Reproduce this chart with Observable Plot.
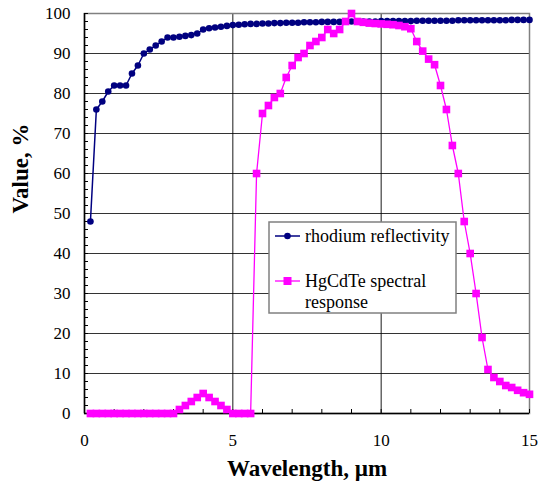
<!DOCTYPE html>
<html>
<head>
<meta charset="utf-8">
<script src="https://cdn.jsdelivr.net/npm/d3@7"></script>
<script src="https://cdn.jsdelivr.net/npm/@observablehq/plot@0.6"></script>
<style>
  html, body { margin: 0; padding: 0; background: #fff; }
</style>
</head>
<body>
<div id="chart"></div>
<script>
const wavelength = [0.2,0.4,0.6,0.8,1.0,1.2,1.4,1.6,1.8,2.0,2.2,2.4,2.6,2.8,3.0,3.2,3.4,3.6,3.8,4.0,
  4.2,4.4,4.6,4.8,5.0,5.2,5.4,5.6,5.8,6.0,6.2,6.4,6.6,6.8,7.0,7.2,7.4,7.6,7.8,8.0,
  8.2,8.4,8.6,8.8,9.0,9.2,9.4,9.6,9.8,10.0,10.2,10.4,10.6,10.8,11.0,11.2,11.4,11.6,11.8,12.0,
  12.2,12.4,12.6,12.8,13.0,13.2,13.4,13.6,13.8,14.0,14.2,14.4,14.6,14.8,15.0];
const rhodium = [48,76,78,80.5,82,82,82,85,87,90,91,92,93,94,94,94.2,94.4,94.6,95,96,
  96.3,96.5,96.7,96.9,97.1,97.2,97.3,97.4,97.4,97.5,97.5,97.6,97.6,97.7,97.7,97.7,97.8,97.8,97.8,97.9,
  97.9,97.9,97.9,98.0,98.0,98.0,98.0,98.0,98.0,98.1,98.1,98.1,98.1,98.1,98.1,98.2,98.2,98.2,98.2,98.2,
  98.2,98.2,98.3,98.3,98.3,98.3,98.3,98.3,98.3,98.3,98.3,98.4,98.4,98.4,98.4];
const hgcdte = [0,0,0,0,0,0,0,0,0,0,0,0,0,0,0,1,2,3,4,5,
  4,3,2,1,0,0,0,0,60,75,77,79,80,84,87,89,90,92,93,94,
  96,95,96,98,100,98,97.8,97.6,97.5,97.4,97.3,97.2,97.0,96.7,96.2,93,90.6,88.6,87.2,82,
  76,67,60,48,40,30,19,11,9,8,7,6.5,5.8,5.2,4.8];
const seriesNames = ["rhodium reflectivity", ["HgCdTe spectral", "response"]];
const xMajorTicks = [0,5,10,15];
const xMinorTicks = [0,1,2,3,4,5,6,7,8,9,10,11,12,13,14,15];
const yMajorTicks = [0,10,20,30,40,50,60,70,80,90,100];
const yMinorTicks = d3.range(0, 101, 2);
const xGrid = [5,10];
const yGrid = [10,20,30,40,50,60,70,80,90,100];

const rhData = wavelength.map((w, i) => ({w, v: rhodium[i]}));
const hgData = wavelength.map((w, i) => ({w, v: hgcdte[i]}));

const navy = "#000080", magenta = "#ff00ff";
const font = '"Liberation Serif", "Times New Roman", serif';

const plot = Plot.plot({
  width: 538, height: 490,
  marginLeft: 84, marginRight: 9, marginTop: 13, marginBottom: 77,
  x: {domain: [0, 15]},
  y: {domain: [0, 100]},
  style: {fontFamily: font, fontSize: "17px", background: "#fff", color: "#000"},
  marks: [
    Plot.gridY(yGrid, {stroke: "#000", strokeOpacity: 0.8, strokeWidth: 1}),
    Plot.gridX(xGrid, {stroke: "#000", strokeOpacity: 0.9, strokeWidth: 1}),
    Plot.frame({stroke: "#808080", strokeWidth: 1.5}),
    Plot.ruleX([0], {stroke: "#000", strokeWidth: 1.5}),
    Plot.ruleY([0], {stroke: "#000", strokeWidth: 1.5}),
    Plot.axisY(yMinorTicks, {tickSize: 4, dx: 4, tickFormat: () => "", label: null, strokeWidth: 1}),
    Plot.axisX(xMinorTicks, {tickSize: 4, dy: -4, tickFormat: () => "", label: null, strokeWidth: 1}),
    Plot.axisY(yMajorTicks, {tickSize: 0, tickPadding: 14, label: null, fontSize: 17, fontFamily: font}),
    Plot.axisX(xMajorTicks, {tickSize: 0, tickPadding: 20, label: null, fontSize: 17, fontFamily: font}),
    Plot.text(["Wavelength, µm"], {frameAnchor: "bottom", text: d => d, dy: 62, fontSize: 23, fontWeight: "bold", fontFamily: font}),
    Plot.text(["Value, %"], {frameAnchor: "left", text: d => d, dx: -64, rotate: -90, fontSize: 23, fontWeight: "bold", fontFamily: font}),
    Plot.line(rhData, {x: "w", y: "v", stroke: navy, strokeWidth: 1.5}),
    Plot.dot(rhData, {x: "w", y: "v", r: 3.3, fill: navy, stroke: "none"}),
    Plot.line(hgData, {x: "w", y: "v", stroke: magenta, strokeWidth: 1.3}),
    Plot.dot(hgData, {x: "w", y: "v", r: 4.3, symbol: "square", fill: magenta, stroke: "none"})
  ]
});

// Legend inside the plot area
const svg = d3.select(plot);
const lg = svg.append("g").attr("font-family", font).attr("font-size", 18).attr("text-anchor", "start");
lg.append("rect").attr("x", 269).attr("y", 222).attr("width", 187).attr("height", 91)
  .attr("fill", "#fff").attr("stroke", "#808080").attr("stroke-width", 1.5);
lg.append("line").attr("x1", 275).attr("x2", 300).attr("y1", 236).attr("y2", 236).attr("stroke", navy).attr("stroke-width", 1.5);
lg.append("circle").attr("cx", 287.5).attr("cy", 236).attr("r", 3.3).attr("fill", navy);
lg.append("text").attr("x", 305).attr("y", 236).attr("dy", "0.32em").attr("text-anchor", "start").text(seriesNames[0]);
lg.append("line").attr("x1", 275).attr("x2", 300).attr("y1", 281).attr("y2", 281).attr("stroke", magenta).attr("stroke-width", 1.3);
lg.append("rect").attr("x", 283.5).attr("y", 277).attr("width", 8).attr("height", 8).attr("fill", magenta);
lg.append("text").attr("x", 305).attr("y", 281.5).attr("dy", "0.32em").attr("text-anchor", "start").text(seriesNames[1][0]);
lg.append("text").attr("x", 305).attr("y", 302.5).attr("dy", "0.32em").attr("text-anchor", "start").text(seriesNames[1][1]);

document.getElementById("chart").appendChild(plot);
</script>
</body>
</html>
